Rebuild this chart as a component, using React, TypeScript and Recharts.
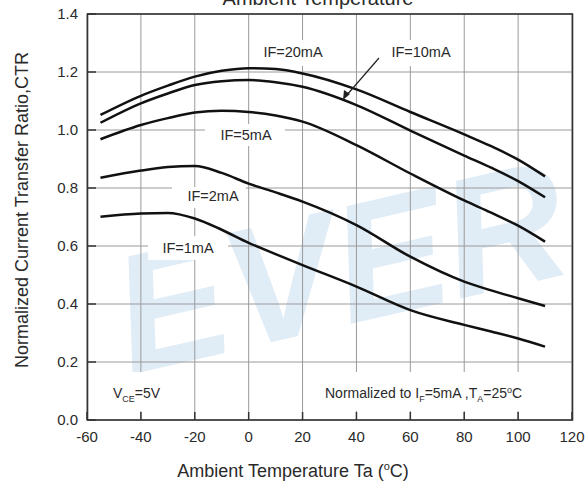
import React from "react";
import { LineChart, Line, XAxis, YAxis, CartesianGrid } from "recharts";

// temperature points (°C)
const temps = [-55, -40, -30, -20, -10, 0, 10, 20, 40, 60, 80, 90, 100, 110];

// normalized CTR per forward current
const if20 = [1.052, 1.118, 1.153, 1.184, 1.204, 1.213, 1.21, 1.195, 1.14, 1.062, 0.985, 0.944, 0.898, 0.84];
const if10 = [1.025, 1.092, 1.126, 1.155, 1.168, 1.172, 1.165, 1.149, 1.086, 0.998, 0.912, 0.87, 0.824, 0.768];
const if5 = [0.968, 1.017, 1.041, 1.06, 1.066, 1.062, 1.05, 1.029, 0.948, 0.85, 0.757, 0.715, 0.67, 0.615];
const if2 = [0.835, 0.86, 0.872, 0.876, 0.852, 0.815, 0.785, 0.753, 0.672, 0.563, 0.477, 0.447, 0.42, 0.393];
const if1 = [0.701, 0.712, 0.714, 0.695, 0.656, 0.611, 0.572, 0.534, 0.46, 0.379, 0.328, 0.305, 0.281, 0.253];

const xTicks = [-60, -40, -20, 0, 20, 40, 60, 80, 100, 120];
const yTicks = [0, 0.2, 0.4, 0.6, 0.8, 1.0, 1.2, 1.4];

const data = temps.map((t, i) => ({
  t,
  if20: if20[i],
  if10: if10[i],
  if5: if5[i],
  if2: if2[i],
  if1: if1[i],
}));

const FONT = "'Liberation Sans', Arial, sans-serif";
const TXT = "#2a2a2a";

const XTick = ({ x, y, payload }: any) => (
  <g>
    <line x1={x} x2={x} y1={y - 8} y2={y} stroke="#333" strokeWidth={1.5} />
    <text x={x} y={y + 22} textAnchor="middle" fontSize={15} fill={TXT} fontFamily={FONT}>
      {payload.value}
    </text>
  </g>
);

const YTick = ({ x, y, payload }: any) => (
  <g>
    <line x1={x} x2={x + 9} y1={y} y2={y} stroke="#333" strokeWidth={1.5} />
    <text x={x - 9} y={y} dy="0.36em" textAnchor="end" fontSize={15} fill={TXT} fontFamily={FONT}>
      {Number(payload.value).toFixed(1)}
    </text>
  </g>
);

// white patches behind the curve labels (they break the grid)
const boxes = [
  { x: 257, y: 40, w: 73, h: 26 },
  { x: 384, y: 40, w: 74, h: 26 },
  { x: 205, y: 124, w: 80, h: 22 },
  { x: 172, y: 187, w: 74, h: 21 },
  { x: 148, y: 236, w: 80, h: 24 },
  { x: 104, y: 372, w: 74, h: 39 },
  { x: 318, y: 372, w: 252, h: 39 },
];

export default function App() {
  return (
    <div style={{ position: "absolute", left: 0, top: 0, width: 588, height: 488, background: "#fff", overflow: "hidden" }}>
      {/* watermark */}
      <svg width={588} height={488} style={{ position: "absolute", left: 0, top: 0 }}>
        <text
          x={338}
          y={325}
          textAnchor="middle"
          fontSize={168}
          fontWeight="bold"
          fontStyle="italic"
          fill="#e0ecf6"
          fontFamily={FONT}
          transform="rotate(-13 338 260)"
        >
          EVER
        </text>
      </svg>

      <div style={{ position: "absolute", left: 0, top: 0 }}>
        <LineChart width={588} height={488} data={data} margin={{ top: 14, right: 16, left: 0, bottom: 0 }}>
          <CartesianGrid stroke="#9a9a9a" strokeWidth={1} />
          <XAxis
            dataKey="t"
            type="number"
            domain={[-60, 120]}
            ticks={xTicks}
            interval={0}
            height={68}
            axisLine={false}
            tickLine={false}
            tickSize={0}
            tickMargin={0}
            tick={<XTick />}
          />
          <YAxis
            type="number"
            domain={[0, 1.4]}
            ticks={yTicks}
            interval={0}
            width={87}
            axisLine={false}
            tickLine={false}
            tickSize={0}
            tickMargin={0}
            tick={<YTick />}
          />
          <Line type="monotone" dataKey="if20" stroke="#111" strokeWidth={2.5} dot={false} isAnimationActive={false} />
          <Line type="monotone" dataKey="if10" stroke="#111" strokeWidth={2.5} dot={false} isAnimationActive={false} />
          <Line type="monotone" dataKey="if5" stroke="#111" strokeWidth={2.5} dot={false} isAnimationActive={false} />
          <Line type="monotone" dataKey="if2" stroke="#111" strokeWidth={2.5} dot={false} isAnimationActive={false} />
          <Line type="monotone" dataKey="if1" stroke="#111" strokeWidth={2.5} dot={false} isAnimationActive={false} />
        </LineChart>
      </div>

      {/* labels, frame and titles */}
      <svg width={588} height={488} style={{ position: "absolute", left: 0, top: 0 }} fontFamily={FONT}>
        {boxes.map((b, i) => (
          <rect key={i} x={b.x} y={b.y} width={b.w} height={b.h} fill="#fff" />
        ))}
        <rect x={87.5} y={14} width={485} height={406} fill="none" stroke="#333" strokeWidth={1.6} />

        <text x={318} y={5} textAnchor="middle" fontSize={20} fill={TXT}>Ambient Temperature</text>

        <text x={293} y={57} textAnchor="middle" fontSize={14.5} fill={TXT}>IF=20mA</text>
        <text x={421} y={57} textAnchor="middle" fontSize={14.5} fill={TXT}>IF=10mA</text>
        <line x1={379} y1={58} x2={346} y2={96} stroke="#222" strokeWidth={1.2} />
        <polygon points="343,100 344,90 350,94" fill="#222" />
        <text x={246} y={140} textAnchor="middle" fontSize={14.5} fill={TXT}>IF=5mA</text>
        <text x={213} y={201} textAnchor="middle" fontSize={14.5} fill={TXT}>IF=2mA</text>
        <text x={188} y={253} textAnchor="middle" fontSize={14.5} fill={TXT}>IF=1mA</text>

        <text x={113} y={398} fontSize={14} fill={TXT}>
          V<tspan fontSize={9} dy={4}>CE</tspan><tspan dy={-4}>=5V</tspan>
        </text>
        <text x={325} y={398} fontSize={14} fill={TXT}>
          Normalized to I<tspan fontSize={9} dy={4}>F</tspan><tspan dy={-4}>=5mA ,T</tspan>
          <tspan fontSize={9} dy={4}>A</tspan><tspan dy={-4}>=25</tspan>
          <tspan fontSize={9} dy={-5}>o</tspan><tspan dy={5}>C</tspan>
        </text>

        <text x={293} y={477} textAnchor="middle" fontSize={18} fill={TXT}>
          Ambient Temperature Ta (<tspan fontSize={11} dy={-7}>o</tspan><tspan dy={7}>C)</tspan>
        </text>
        <text
          x={0}
          y={0}
          transform="translate(28 210) rotate(-90)"
          textAnchor="middle"
          fontSize={18}
          fill={TXT}
        >
          Normalized Current Transfer Ratio,CTR
        </text>
      </svg>
    </div>
  );
}
